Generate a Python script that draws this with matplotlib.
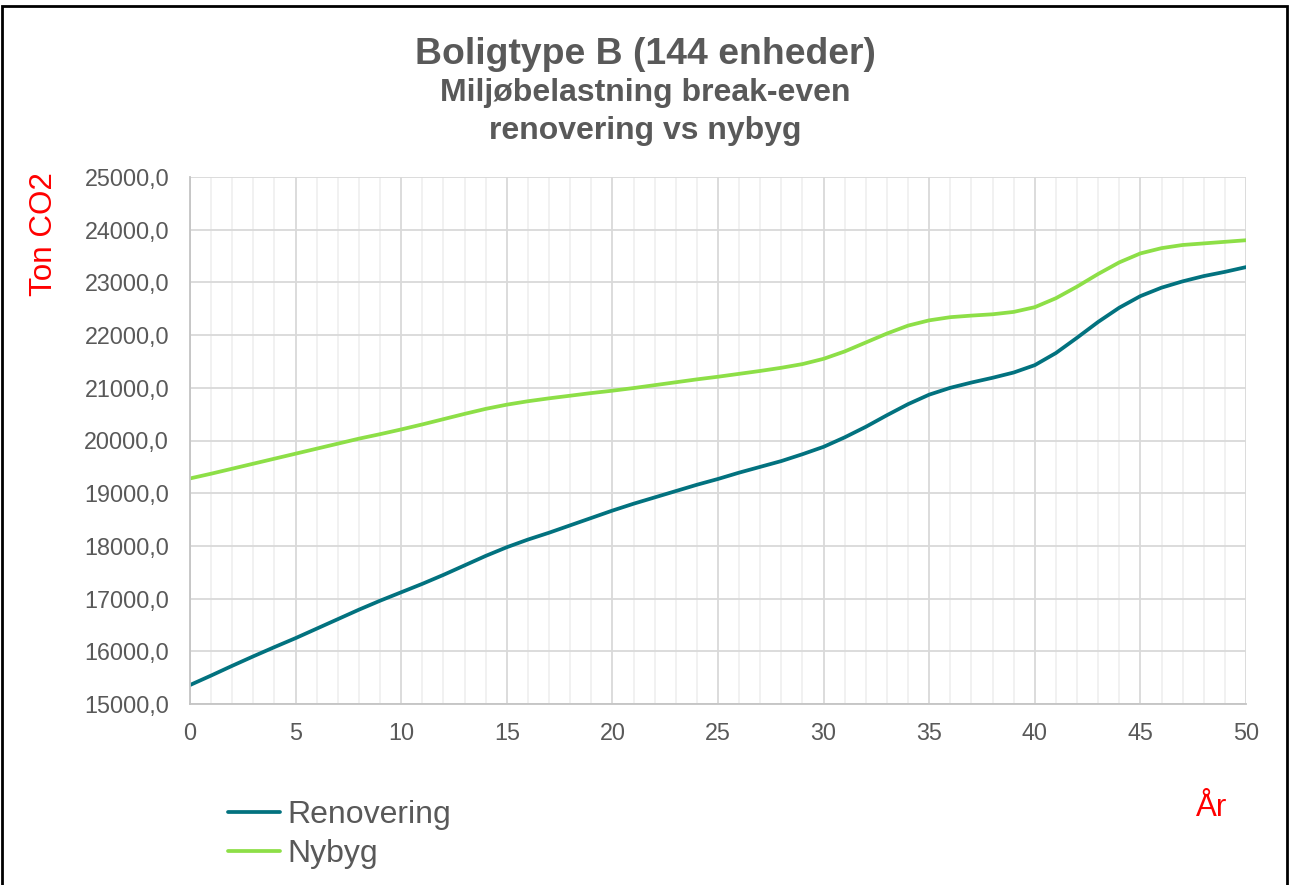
import matplotlib
matplotlib.use("Agg")
import matplotlib.pyplot as plt
import matplotlib.patches as patches
from matplotlib.ticker import MultipleLocator, FuncFormatter

# Data (ton CO2 per year)
years = list(range(0, 51))
renovering = [15360, 15540, 15725, 15905, 16080, 16250, 16430, 16610, 16790, 16960,
              17120, 17280, 17450, 17630, 17810, 17975, 18120, 18250, 18390, 18530,
              18670, 18800, 18920, 19040, 19160, 19270, 19390, 19500, 19610, 19740,
              19880, 20060, 20260, 20480, 20690, 20870, 21000, 21100, 21190, 21290,
              21430, 21660, 21950, 22250, 22520, 22740, 22900, 23020, 23120, 23200,
              23290]
nybyg = [19280, 19370, 19465, 19560, 19655, 19750, 19845, 19940, 20035, 20120,
         20210, 20305, 20405, 20505, 20600, 20680, 20745, 20800, 20850, 20900,
         20945, 20995, 21050, 21105, 21160, 21210, 21265, 21320, 21380, 21450,
         21550, 21690, 21860, 22030, 22180, 22280, 22340, 22370, 22395, 22440,
         22530, 22700, 22920, 23160, 23380, 23550, 23650, 23710, 23740, 23770,
         23800]

plt.rcParams['font.family'] = ['Liberation Sans', 'DejaVu Sans']
text_grey = '#595959'

fig = plt.figure(figsize=(12.9, 8.85), dpi=100)
ax = fig.add_axes([190 / 1290, 1 - 704 / 885, (1246 - 190) / 1290, (704 - 177) / 885])

ax.plot(years, renovering, color='#02727f', lw=2.7, label='Renovering', solid_capstyle='round')
ax.plot(years, nybyg, color='#8ddf47', lw=2.7, label='Nybyg', solid_capstyle='round')

ax.set_xlim(0, 50)
ax.set_ylim(15000, 25000)
ax.xaxis.set_major_locator(MultipleLocator(5))
ax.xaxis.set_minor_locator(MultipleLocator(1))
ax.yaxis.set_major_locator(MultipleLocator(1000))
ax.yaxis.set_major_formatter(FuncFormatter(lambda v, p: f"{v:.1f}".replace('.', ',')))

ax.grid(which='major', axis='both', color='#d9d9d9', lw=1.3, zorder=0)
ax.grid(which='minor', axis='x', color='#efefef', lw=1.2, zorder=0)
ax.set_axisbelow(True)
ax.tick_params(which='both', length=0, labelsize=16.8, labelcolor=text_grey)
ax.tick_params(axis='x', pad=13)
ax.tick_params(axis='y', pad=15)
for side in ['top', 'right']:
    ax.spines[side].set_visible(False)
for side in ['left', 'bottom']:
    ax.spines[side].set_color('#c4c4c4')
    ax.spines[side].set_linewidth(1.3)

# titles
fig.text(0.5, 1 - 54 / 885, 'Boligtype B (144 enheder)', ha='center', va='center',
         fontsize=26.9, fontweight='bold', color=text_grey)
fig.text(0.5, 1 - 93 / 885, 'Miljøbelastning break-even', ha='center', va='center',
         fontsize=23, fontweight='bold', color=text_grey)
fig.text(0.5, 1 - 131 / 885, 'renovering vs nybyg', ha='center', va='center',
         fontsize=23, fontweight='bold', color=text_grey)

# axis labels
fig.text(44 / 1290, 1 - 234 / 885, 'Ton CO2', rotation=90, ha='center', va='center',
         fontsize=22.6, color='red')
fig.text(1212 / 1290, 1 - 808 / 885, 'År', ha='center', va='center',
         fontsize=22.6, color='red')

leg = fig.legend(loc='upper left', bbox_to_anchor=(215 / 1290, 1 - 787 / 885),
                 frameon=False, fontsize=23, handlelength=1.65, handletextpad=0.2,
                 labelspacing=0.28, borderaxespad=0)
for t in leg.get_texts():
    t.set_color(text_grey)

# outer border
fig.patches.append(patches.Rectangle((2 / 1290, -0.02), (1287 - 2) / 1290, 1.02 - 6 / 885,
                                     transform=fig.transFigure, fill=False,
                                     edgecolor='black', lw=2))

fig.savefig('out.png', dpi=100)
